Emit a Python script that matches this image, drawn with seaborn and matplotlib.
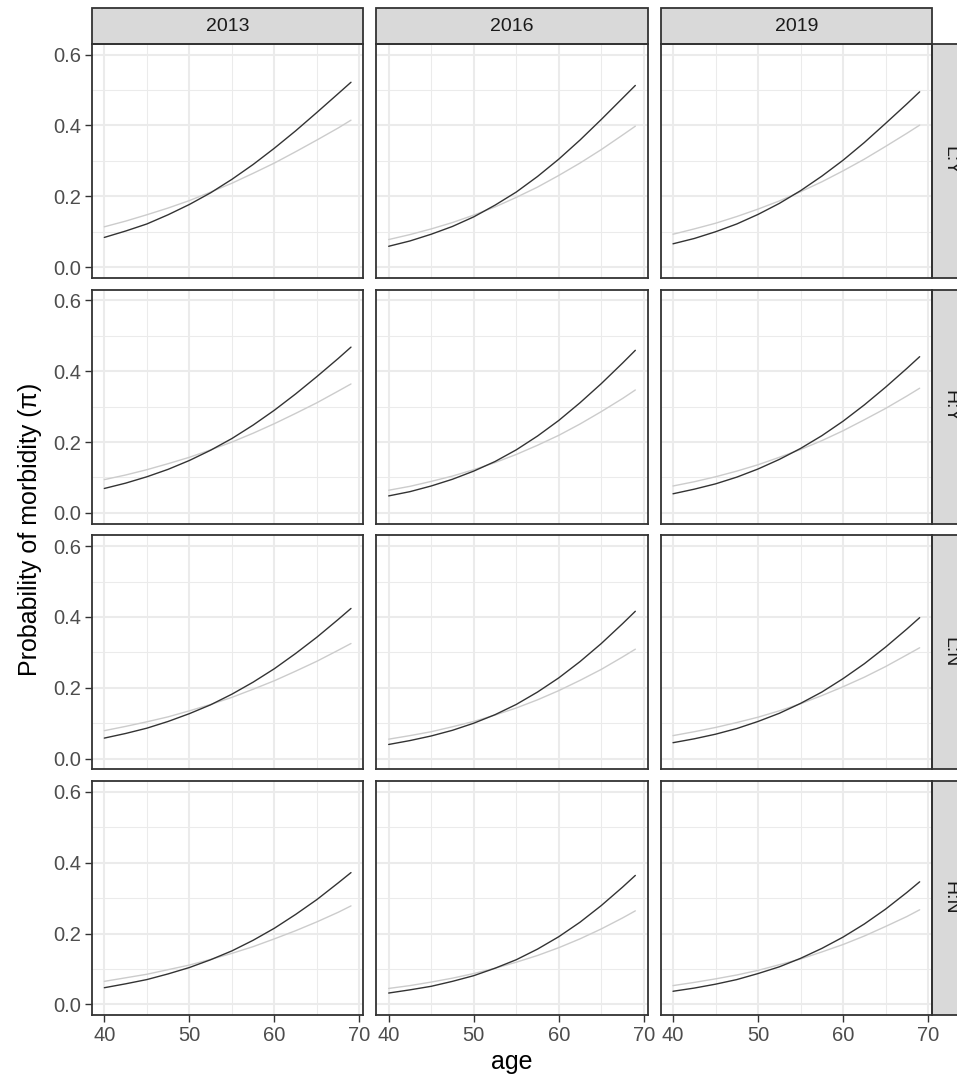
import matplotlib.pyplot as plt
import matplotlib.patches as mpatches
import pandas as pd
import seaborn as sns

ages = [40, 42.5, 45, 47.5, 50, 52.5, 55, 57.5, 60, 62.5, 65, 67.5, 69]
years = ["2013", "2016", "2019"]
groups = ["L:Y", "H:Y", "L:N", "H:N"]

# dark curve, one list per year (2013, 2016, 2019)
dark_LY = [[0.084, 0.102, 0.122, 0.148, 0.177, 0.210, 0.248, 0.290, 0.336, 0.385, 0.437, 0.490, 0.522],
           [0.059, 0.074, 0.093, 0.115, 0.142, 0.175, 0.212, 0.256, 0.305, 0.359, 0.417, 0.477, 0.513],
           [0.066, 0.081, 0.100, 0.122, 0.149, 0.180, 0.216, 0.257, 0.302, 0.352, 0.406, 0.461, 0.495]]
dark_HY = [[0.069, 0.084, 0.102, 0.123, 0.148, 0.177, 0.210, 0.248, 0.290, 0.336, 0.385, 0.436, 0.468],
           [0.048, 0.060, 0.076, 0.095, 0.118, 0.145, 0.178, 0.217, 0.261, 0.311, 0.365, 0.423, 0.459],
           [0.054, 0.067, 0.082, 0.101, 0.124, 0.151, 0.182, 0.218, 0.259, 0.305, 0.355, 0.408, 0.441]]
dark_LN = [[0.058, 0.071, 0.086, 0.105, 0.127, 0.152, 0.182, 0.216, 0.254, 0.297, 0.343, 0.393, 0.424],
           [0.040, 0.051, 0.064, 0.080, 0.100, 0.124, 0.153, 0.188, 0.228, 0.274, 0.325, 0.381, 0.416],
           [0.045, 0.056, 0.069, 0.085, 0.105, 0.128, 0.156, 0.188, 0.226, 0.268, 0.315, 0.366, 0.398]]
dark_HN = [[0.047, 0.058, 0.070, 0.086, 0.104, 0.126, 0.151, 0.181, 0.215, 0.254, 0.296, 0.343, 0.372],
           [0.032, 0.041, 0.051, 0.065, 0.081, 0.102, 0.126, 0.156, 0.191, 0.232, 0.279, 0.331, 0.364],
           [0.037, 0.046, 0.057, 0.070, 0.087, 0.106, 0.130, 0.158, 0.190, 0.227, 0.269, 0.316, 0.346]]

# light curve
light_LY = [[0.114, 0.130, 0.148, 0.167, 0.188, 0.212, 0.237, 0.265, 0.294, 0.326, 0.359, 0.393, 0.415],
            [0.078, 0.092, 0.108, 0.126, 0.147, 0.170, 0.197, 0.226, 0.259, 0.294, 0.332, 0.373, 0.398],
            [0.093, 0.108, 0.124, 0.143, 0.164, 0.187, 0.213, 0.241, 0.272, 0.305, 0.341, 0.378, 0.401]]
light_HY = [[0.094, 0.107, 0.122, 0.139, 0.157, 0.178, 0.200, 0.225, 0.252, 0.281, 0.311, 0.344, 0.364],
            [0.064, 0.075, 0.089, 0.104, 0.122, 0.142, 0.165, 0.191, 0.219, 0.251, 0.286, 0.323, 0.347],
            [0.076, 0.088, 0.102, 0.118, 0.136, 0.157, 0.179, 0.204, 0.232, 0.263, 0.295, 0.330, 0.352]]
light_LN = [[0.079, 0.091, 0.104, 0.118, 0.135, 0.153, 0.173, 0.196, 0.220, 0.247, 0.275, 0.306, 0.325],
            [0.055, 0.065, 0.076, 0.090, 0.105, 0.123, 0.143, 0.166, 0.192, 0.221, 0.252, 0.287, 0.309],
            [0.065, 0.076, 0.088, 0.102, 0.117, 0.135, 0.155, 0.178, 0.203, 0.230, 0.260, 0.293, 0.313]]
light_HN = [[0.065, 0.075, 0.085, 0.098, 0.111, 0.127, 0.144, 0.163, 0.185, 0.208, 0.233, 0.260, 0.278],
            [0.045, 0.053, 0.063, 0.074, 0.087, 0.102, 0.119, 0.138, 0.160, 0.185, 0.213, 0.244, 0.264],
            [0.053, 0.062, 0.072, 0.083, 0.096, 0.112, 0.128, 0.148, 0.169, 0.193, 0.220, 0.248, 0.267]]

dark = {"L:Y": dark_LY, "H:Y": dark_HY, "L:N": dark_LN, "H:N": dark_HN}
light = {"L:Y": light_LY, "H:Y": light_HY, "L:N": light_LN, "H:N": light_HN}

# Build long data frame
rows = []
for g in groups:
    for j, yr in enumerate(years):
        for a, p in zip(ages, dark[g][j]):
            rows.append({"age": a, "prob": p, "year": yr, "group": g, "fit": "dark"})
        for a, p in zip(ages, light[g][j]):
            rows.append({"age": a, "prob": p, "year": yr, "group": g, "fit": "light"})
df = pd.DataFrame(rows)

sns.set_theme(style="white")
plt.rcParams["font.family"] = ["Liberation Sans", "DejaVu Sans"]

W, H = 957, 1074
fig, axes = plt.subplots(4, 3, figsize=(W / 100, H / 100), dpi=100, sharex=True, sharey=True)
fig.subplots_adjust(left=92 / W, right=932 / W, top=1 - 44 / H, bottom=1 - 1015 / H,
                    wspace=0.048, hspace=0.051)

border = "#333333"
strip_fill = "#D9D9D9"

for i, g in enumerate(groups):
    for j, yr in enumerate(years):
        ax = axes[i, j]
        sub = df[(df["group"] == g) & (df["year"] == yr)]
        sns.lineplot(data=sub[sub["fit"] == "light"], x="age", y="prob", color="#CCCCCC",
                     linewidth=1.0, ax=ax)
        sns.lineplot(data=sub[sub["fit"] == "dark"], x="age", y="prob", color="#333333",
                     linewidth=1.0, ax=ax)

        ax.set_xlim(38.55, 70.45)
        ax.set_ylim(-0.03, 0.63)
        ax.set_xticks([40, 50, 60, 70])
        ax.set_xticks([45, 55, 65], minor=True)
        ax.set_yticks([0.0, 0.2, 0.4, 0.6])
        ax.set_yticks([0.1, 0.3, 0.5], minor=True)
        ax.set_yticklabels(["0.0", "0.2", "0.4", "0.6"])
        ax.grid(which="major", color="#EBEBEB", linewidth=1.5)
        ax.grid(which="minor", color="#EBEBEB", linewidth=0.75)
        ax.set_axisbelow(True)
        ax.set_xlabel("")
        ax.set_ylabel("")
        for s in ax.spines.values():
            s.set_color(border)
            s.set_linewidth(1.3)

        ax.tick_params(which="minor", length=0)
        ax.tick_params(which="major", labelsize=14.5, labelcolor="#4D4D4D", color=border,
                       length=5, width=1, pad=3)
        if j > 0:
            ax.tick_params(axis="y", left=False, labelleft=False)
        else:
            ax.tick_params(axis="y", left=True)
        if i < 3:
            ax.tick_params(axis="x", bottom=False, labelbottom=False)
        else:
            ax.tick_params(axis="x", bottom=True)

        # top strips
        if i == 0:
            h = 36 / 234
            ax.add_patch(mpatches.Rectangle((0, 1), 1, h, transform=ax.transAxes,
                                            clip_on=False, facecolor=strip_fill,
                                            edgecolor=border, linewidth=1.3))
            ax.text(0.5, 1 + h / 2, yr, transform=ax.transAxes, ha="center", va="center",
                    fontsize=14, color="#1A1A1A")
        # right strips
        if j == 2:
            w = 36 / 271
            ax.add_patch(mpatches.Rectangle((1, 0), w, 1, transform=ax.transAxes,
                                            clip_on=False, facecolor=strip_fill,
                                            edgecolor=border, linewidth=1.3))
            ax.text(1 + w / 2, 0.5, g, transform=ax.transAxes, ha="center", va="center",
                    rotation=-90, fontsize=14, color="#1A1A1A")

fig.text((92 + 932) / 2 / W, 1 - 1062 / H, "age", ha="center", va="center",
         fontsize=18, color="black")
fig.text(30 / W, 1 - 529 / H, "Probability of morbidity (π)", ha="center", va="center",
         rotation=90, fontsize=18, color="black")

fig.savefig("out.png", dpi=100)
